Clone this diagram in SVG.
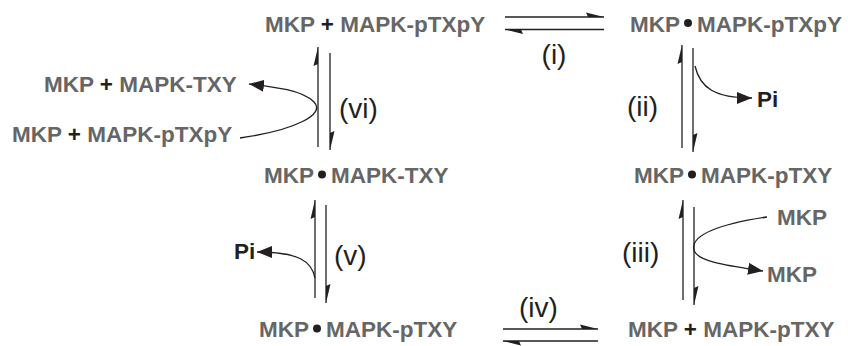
<svg xmlns="http://www.w3.org/2000/svg" width="848" height="346" viewBox="0 0 848 346">
<defs>
<style>
.sp{font-family:"Liberation Sans",Arial,Helvetica,sans-serif;font-weight:bold;font-size:22.5px;fill:#666666}
.k{fill:#231f20}
.lbl{font-family:"Liberation Sans",Arial,Helvetica,sans-serif;font-size:28px;fill:#231f20}
.ln{stroke:#231f20;stroke-width:1.3;fill:none}
.hd{fill:#231f20;stroke:none}
.dot{fill:#231f20}
</style>
<marker id="ah" markerWidth="15" markerHeight="12" refX="15" refY="6" orient="auto" markerUnits="userSpaceOnUse"><path d="M0,0 L15,6 L0,12 z" fill="#231f20"/></marker>
</defs>
<rect width="848" height="346" fill="#ffffff"/>

<g id="n-top-left"><text class="sp" x="265" y="31.5">MKP <tspan class="k">+</tspan> MAPK-pTXpY</text></g>
<g id="n-top-right"><text class="sp" x="630" y="31.5">MKP</text><circle class="dot" cx="688" cy="23" r="4"/><text class="sp" x="697" y="31.5">MAPK-pTXpY</text></g>
<g id="n-mid-right"><text class="sp" x="634" y="183">MKP</text><circle class="dot" cx="692" cy="174.5" r="4"/><text class="sp" x="701" y="183">MAPK-pTXY</text></g>
<g id="n-mid-left"><text class="sp" x="264" y="183">MKP</text><circle class="dot" cx="322" cy="174.5" r="4"/><text class="sp" x="331" y="183">MAPK-TXY</text></g>
<g id="n-bot-left"><text class="sp" x="259" y="337">MKP</text><circle class="dot" cx="317" cy="328.5" r="4"/><text class="sp" x="326" y="337">MAPK-pTXY</text></g>
<g id="n-bot-right"><text class="sp" x="628" y="337">MKP <tspan class="k">+</tspan> MAPK-pTXY</text></g>
<g id="n-left-prod"><text class="sp" x="44" y="92">MKP <tspan class="k">+</tspan> MAPK-TXY</text></g>
<g id="n-left-sub"><text class="sp" x="12" y="142">MKP <tspan class="k">+</tspan> MAPK-pTXpY</text></g>
<g id="n-pi-right"><text class="sp k" x="757" y="107">Pi</text></g>
<g id="n-pi-left"><text class="sp k" x="234" y="259">Pi</text></g>
<g id="n-mkp-in"><text class="sp" x="777" y="225">MKP</text></g>
<g id="n-mkp-out"><text class="sp" x="767" y="282">MKP</text></g>

<g id="labels">
<text class="lbl" x="554" y="64" text-anchor="middle">(i)</text>
<text class="lbl" x="627" y="116">(ii)</text>
<text class="lbl" x="622" y="262">(iii)</text>
<text class="lbl" x="519" y="317">(iv)</text>
<text class="lbl" x="334" y="265">(v)</text>
<text class="lbl" x="339" y="118">(vi)</text>
</g>

<g id="connectors">
<!-- (i) -->
<line class="ln" x1="505" y1="17" x2="604" y2="17"/>
<polygon class="hd" points="604,17 586,12.5 588,17"/>
<line class="ln" x1="505" y1="29.5" x2="604" y2="29.5"/>
<polygon class="hd" points="505,29.5 523,34 521,29.5"/>
<!-- (iv) -->
<line class="ln" x1="503" y1="329" x2="598" y2="329"/>
<polygon class="hd" points="598,329 580,324.5 582,329"/>
<line class="ln" x1="503" y1="341" x2="598" y2="341"/>
<polygon class="hd" points="503,341 521,345.5 519,341"/>
<!-- (vi) -->
<line class="ln" x1="318" y1="147" x2="318" y2="47"/>
<polygon class="hd" points="318,47 313.5,66 318,64"/>
<line class="ln" x1="330" y1="53" x2="330" y2="150"/>
<polygon class="hd" points="330,150 334.5,131 330,133"/>
<!-- (v) -->
<line class="ln" x1="315" y1="298" x2="315" y2="200"/>
<polygon class="hd" points="315,200 310.5,219 315,217"/>
<line class="ln" x1="326" y1="205" x2="326" y2="303"/>
<polygon class="hd" points="326,303 330.5,284 326,286"/>
<!-- (ii) -->
<line class="ln" x1="682" y1="148" x2="682" y2="45"/>
<polygon class="hd" points="682,45 677.5,64 682,62"/>
<line class="ln" x1="693" y1="48" x2="693" y2="152"/>
<polygon class="hd" points="693,152 697.5,133 693,135"/>
<!-- (iii) -->
<line class="ln" x1="683" y1="300" x2="683" y2="200"/>
<polygon class="hd" points="683,200 678.5,219 683,217"/>
<line class="ln" x1="694" y1="207" x2="694" y2="305"/>
<polygon class="hd" points="694,305 698.5,286 694,288"/>
<!-- curved -->
<path class="ln" marker-end="url(#ah)" d="M240,138 C296,130 326,114 314,102 C302,90 275,87 249,84"/>
<path class="ln" marker-end="url(#ah)" d="M695,66 C700,88 715,98 752,98"/>
<path class="ln" marker-end="url(#ah)" d="M767,217 C720,224 690,235 694,250 C697,262 730,266 763,271"/>
<path class="ln" marker-end="url(#ah)" d="M315,278 C312,262 300,252 257,252"/>
</g>
</svg>
